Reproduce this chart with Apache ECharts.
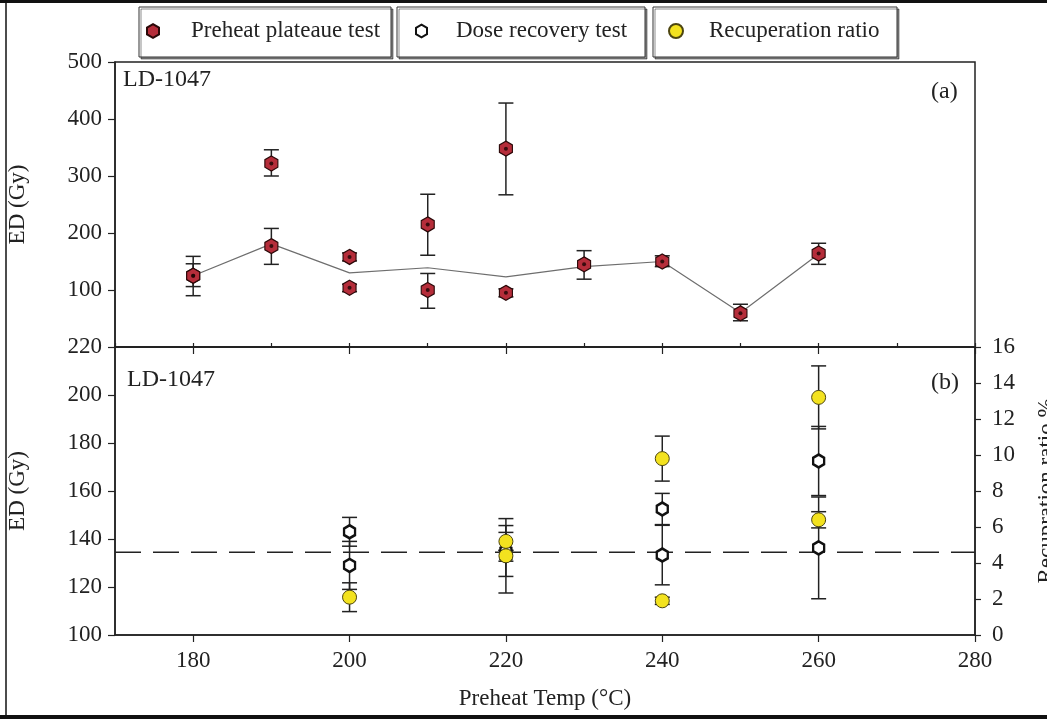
<!DOCTYPE html>
<html>
<head>
<meta charset="utf-8">
<script src="https://cdn.jsdelivr.net/npm/echarts@6.0.0/dist/echarts.min.js"></script>
<style>
  html, body { margin: 0; padding: 0; background: #fff; }
  #chart { width: 1047px; height: 719px; }
</style>
</head>
<body>
<div id="chart"></div>
<script>
// panel (a): preheat plateau test
var preheatTemp = [180, 180, 190, 190, 200, 200, 210, 210, 220, 220, 230, 240, 250, 260];
var preheatED   = [125, 125, 322, 177, 158, 104, 215, 100, 348, 95, 145, 150, 59, 164];
var preheatLow  = [90, 106, 300, 145, 151, 97, 161, 68, 267, 88, 119, 141, 46, 145];
var preheatHigh = [159, 146, 346, 208, 165, 110, 268, 129, 428, 102, 169, 160, 75, 182];

// grey line through panel (a)
var lineTemp = [180, 190, 200, 210, 220, 230, 240, 250, 260];
var lineED   = [125, 181, 130, 139, 123, 141, 150, 60, 163];

// panel (b): dose recovery test
var doseTemp = [200, 200, 220, 220, 240, 240, 260, 260];
var doseED   = [143, 129, 135, 133, 152.5, 133.3, 172.5, 136.3];
var doseErr  = [6, 10, 10.6, 15.5, 6.5, 12.4, 14.4, 21.2];

// panel (b): recuperation ratio (%)
var recupTemp  = [200, 220, 220, 240, 240, 260, 260];
var recupRatio = [2.1, 5.2, 4.4, 9.8, 1.9, 13.2, 6.4];
var recupErr   = [0.8, 0.5, 0.3, 1.25, 0.2, 1.75, 0.45];

var givenDose = 134.5;
var xTicksB = [180, 200, 220, 240, 260, 280];

var font = 'Liberation Serif';
var ink = '#222';
var hexagon = 'path://M0,-10 L8.66,-5 L8.66,5 L0,10 L-8.66,5 L-8.66,-5 Z';

function pairs(xs, ys) {
  return xs.map(function (x, i) { return [x, ys[i]]; });
}
function errRows(xs, lo, hi) {
  return xs.map(function (x, i) { return [x, lo[i], hi[i]]; });
}
function errRowsSym(xs, ys, e) {
  return xs.map(function (x, i) { return [x, ys[i] - e[i], ys[i] + e[i]]; });
}

function errorBar(params, api) {
  var x = api.value(0);
  var top = api.coord([x, api.value(2)]);
  var bot = api.coord([x, api.value(1)]);
  var h = 7.5;
  var st = { stroke: ink, lineWidth: 1.5 };
  return {
    type: 'group',
    children: [
      { type: 'line', shape: { x1: top[0], y1: top[1], x2: bot[0], y2: bot[1] }, style: st },
      { type: 'line', shape: { x1: top[0] - h, y1: top[1], x2: top[0] + h, y2: top[1] }, style: st },
      { type: 'line', shape: { x1: bot[0] - h, y1: bot[1], x2: bot[0] + h, y2: bot[1] }, style: st }
    ]
  };
}

var axisLine = { lineStyle: { color: ink, width: 1.5 } };
var tickLabel = { color: ink, fontFamily: font, fontSize: 23 };
var legendText = { color: ink, fontFamily: font, fontSize: 23, lineHeight: 24 };

var myChart = echarts.init(document.getElementById('chart'));

var option = {
  animation: false,
  backgroundColor: '#fff',
  grid: [
    { left: 115, right: 72, top: 62, height: 285, show: true, borderColor: ink, borderWidth: 1.5, outerBoundsMode: 'none' },
    { left: 115, right: 72, top: 347, height: 288, show: true, borderColor: ink, borderWidth: 1.5, outerBoundsMode: 'none' }
  ],
  legend: [
    {
      data: ['Preheat plateaue test'], left: 146, top: 19, padding: 0,
      itemWidth: 12, itemHeight: 15,
      textStyle: Object.assign({ padding: [0, 0, 0, 27] }, legendText)
    },
    {
      data: ['Dose recovery test'], left: 415, top: 19, padding: 0,
      itemWidth: 11, itemHeight: 13,
      textStyle: Object.assign({ padding: [0, 0, 0, 24] }, legendText)
    },
    {
      data: ['Recuperation ratio'], left: 668, top: 19, padding: 0,
      itemWidth: 14, itemHeight: 14,
      textStyle: Object.assign({ padding: [0, 0, 0, 21] }, legendText)
    }
  ],
  xAxis: [
    {
      gridIndex: 0, type: 'value', min: 170, max: 280, interval: 10,
      axisLine: axisLine,
      axisTick: { inside: true, length: 4, lineStyle: { color: ink, width: 1.2 } },
      axisLabel: { show: false },
      splitLine: { show: false }
    },
    {
      gridIndex: 1, type: 'value', min: 170, max: 280, position: 'bottom',
      axisLine: axisLine,
      axisTick: { length: 7, customValues: xTicksB, lineStyle: { color: ink, width: 1.2 } },
      axisLabel: Object.assign({ customValues: xTicksB, margin: 14 }, tickLabel),
      splitLine: { show: false },
      name: 'Preheat Temp (°C)', nameLocation: 'middle', nameGap: 52,
      nameTextStyle: { color: ink, fontFamily: font, fontSize: 23 }
    },
    {
      gridIndex: 1, type: 'value', min: 170, max: 280, position: 'top',
      axisLine: axisLine,
      axisTick: { inside: true, length: 7, customValues: xTicksB, lineStyle: { color: ink, width: 1.2 } },
      axisLabel: { show: false },
      splitLine: { show: false }
    }
  ],
  yAxis: [
    {
      gridIndex: 0, type: 'value', min: 0, max: 500, interval: 100,
      axisLine: axisLine,
      axisTick: { length: 7, lineStyle: { color: ink, width: 1.2 } },
      axisLabel: Object.assign({ margin: 13, showMinLabel: false }, tickLabel),
      splitLine: { show: false },
      name: 'ED (Gy)', nameLocation: 'middle', nameGap: 86, nameRotate: 90,
      nameTextStyle: { color: ink, fontFamily: font, fontSize: 23 }
    },
    {
      gridIndex: 1, type: 'value', min: 100, max: 220, interval: 20,
      axisLine: axisLine,
      axisTick: { length: 7, lineStyle: { color: ink, width: 1.2 } },
      axisLabel: Object.assign({ margin: 13 }, tickLabel),
      splitLine: { show: false },
      name: 'ED (Gy)', nameLocation: 'middle', nameGap: 86, nameRotate: 90,
      nameTextStyle: { color: ink, fontFamily: font, fontSize: 23 }
    },
    {
      gridIndex: 1, type: 'value', min: 0, max: 16, interval: 2, position: 'right',
      axisLine: axisLine,
      axisTick: { length: 6, lineStyle: { color: ink, width: 1.2 } },
      axisLabel: Object.assign({ margin: 17 }, tickLabel),
      splitLine: { show: false },
      name: 'Recupration ratio %', nameLocation: 'middle', nameGap: 60, nameRotate: 90,
      nameTextStyle: { color: ink, fontFamily: font, fontSize: 23 }
    }
  ],
  graphic: [
    { type: 'rect', z: -1, shape: { x: 139, y: 7, width: 252, height: 50 },
      style: { fill: '#fff', stroke: '#333', lineWidth: 1, shadowColor: 'rgba(0,0,0,0.45)', shadowOffsetX: 2, shadowOffsetY: 2 } },
    { type: 'rect', z: -1, shape: { x: 397, y: 7, width: 248, height: 50 },
      style: { fill: '#fff', stroke: '#333', lineWidth: 1, shadowColor: 'rgba(0,0,0,0.45)', shadowOffsetX: 2, shadowOffsetY: 2 } },
    { type: 'rect', z: -1, shape: { x: 653, y: 7, width: 244, height: 50 },
      style: { fill: '#fff', stroke: '#333', lineWidth: 1, shadowColor: 'rgba(0,0,0,0.45)', shadowOffsetX: 2, shadowOffsetY: 2 } },
    { type: 'text', left: 123, top: 68, style: { text: 'LD-1047', fill: ink, font: '24px "Liberation Serif"' } },
    { type: 'text', left: 931, top: 80, style: { text: '(a)', fill: ink, font: '24px "Liberation Serif"' } },
    { type: 'text', left: 127, top: 368, style: { text: 'LD-1047', fill: ink, font: '24px "Liberation Serif"' } },
    { type: 'text', left: 931, top: 371, style: { text: '(b)', fill: ink, font: '24px "Liberation Serif"' } },
    { type: 'line', shape: { x1: 0, y1: 1.5, x2: 1047, y2: 1.5 }, style: { stroke: '#111', lineWidth: 3 } },
    { type: 'line', shape: { x1: 6, y1: 0, x2: 6, y2: 719 }, style: { stroke: '#111', lineWidth: 1.5 } },
    { type: 'line', shape: { x1: 0, y1: 717, x2: 1047, y2: 717 }, style: { stroke: '#111', lineWidth: 4 } }
  ],
  series: [
    {
      name: 'line', type: 'line', xAxisIndex: 0, yAxisIndex: 0,
      data: pairs(lineTemp, lineED), symbol: 'none', z: 2,
      lineStyle: { color: '#6e6e6e', width: 1.2 }
    },
    {
      name: 'preheat-err', type: 'custom', xAxisIndex: 0, yAxisIndex: 0,
      data: errRows(preheatTemp, preheatLow, preheatHigh),
      encode: { x: 0, y: [1, 2] }, renderItem: errorBar, z: 3, silent: true
    },
    {
      name: 'Preheat plateaue test', type: 'scatter', xAxisIndex: 0, yAxisIndex: 0,
      data: pairs(preheatTemp, preheatED), symbol: hexagon, symbolSize: [13, 15], z: 5,
      itemStyle: { color: '#b52d3a', borderColor: '#2a0808', borderWidth: 1.2, opacity: 1 }
    },
    {
      name: 'preheat-dot', type: 'scatter', xAxisIndex: 0, yAxisIndex: 0,
      data: pairs(preheatTemp, preheatED), symbol: 'circle', symbolSize: 4, z: 6, silent: true,
      itemStyle: { color: '#1a0404' }
    },
    {
      name: 'given-dose', type: 'line', xAxisIndex: 1, yAxisIndex: 1,
      data: [[170, givenDose], [280, givenDose]], symbol: 'none', z: 2,
      lineStyle: { color: ink, width: 1.5, type: [26, 12] }
    },
    {
      name: 'dose-err', type: 'custom', xAxisIndex: 1, yAxisIndex: 1,
      data: errRowsSym(doseTemp, doseED, doseErr),
      encode: { x: 0, y: [1, 2] }, renderItem: errorBar, z: 3, silent: true
    },
    {
      name: 'recup-err', type: 'custom', xAxisIndex: 1, yAxisIndex: 2,
      data: errRowsSym(recupTemp, recupRatio, recupErr),
      encode: { x: 0, y: [1, 2] }, renderItem: errorBar, z: 3, silent: true
    },
    {
      name: 'Dose recovery test', type: 'scatter', xAxisIndex: 1, yAxisIndex: 1,
      data: pairs(doseTemp, doseED), symbol: hexagon, symbolSize: [11, 13], z: 5,
      itemStyle: { color: '#fff', borderColor: '#111', borderWidth: 2.5, opacity: 1 }
    },
    {
      name: 'Recuperation ratio', type: 'scatter', xAxisIndex: 1, yAxisIndex: 2,
      data: pairs(recupTemp, recupRatio), symbol: 'circle', symbolSize: 14, z: 7,
      itemStyle: { color: '#f3e21f', borderColor: '#4d4610', borderWidth: 1, opacity: 1 }
    }
  ]
};

myChart.setOption(option);
</script>
</body>
</html>
